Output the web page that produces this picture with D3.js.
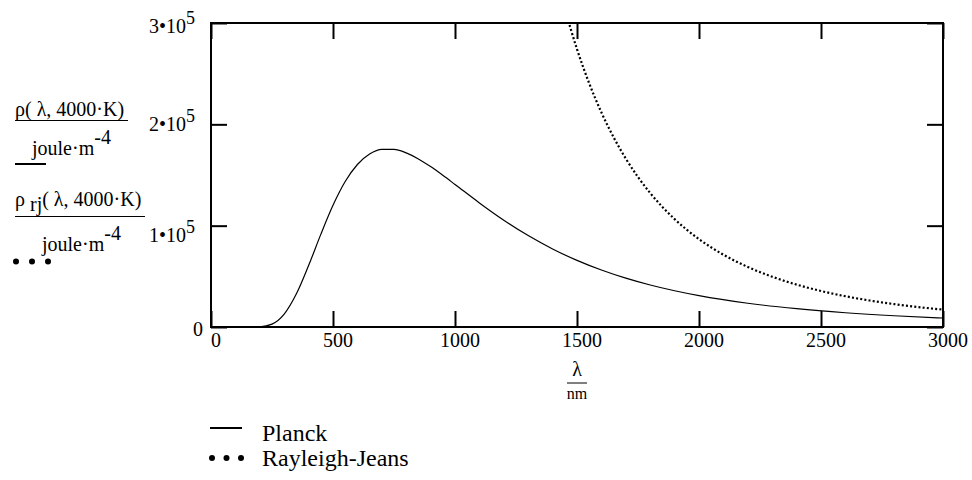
<!DOCTYPE html>
<meta charset="utf-8">
<style>
body { margin: 0; background: #fff; }
svg text { fill: #000; }
.frame { fill: none; stroke: #000; stroke-width: 2px; }
.ticks line { stroke: #000; stroke-width: 2px; }
.ticks path { display: none; }
.planck { fill: none; stroke: #000; stroke-width: 1.2px; }
.rj { fill: none; stroke: #000; stroke-width: 2.2px; stroke-dasharray: 2,2.2; }
</style>
<body>
<svg width="972" height="480" font-family="'Liberation Serif', 'Times New Roman', 'DejaVu Serif', serif"></svg>
</body>
<script src="https://d3js.org/d3.v7.min.js"></script>
<script>
// wavelength (nm) and energy density (joule/m^4), T = 4000 K
var lambdaPlanck = [0, 50, 100, 150, 200, 250, 300, 350, 400, 450, 500, 550, 600, 650, 700, 750,
                    800, 850, 900, 950, 1000, 1100, 1200, 1300, 1400, 1500, 1600, 1700, 1800, 1900,
                    2000, 2200, 2400, 2600, 2800, 3000];
var planck = [0, 0, 0, 3, 240, 2880, 12750, 32710, 60640, 91410, 120090, 143520, 160360, 170680, 175280, 175300,
              171820, 165870, 158290, 149730, 140680, 122470, 105400, 90190, 76990, 65740, 56220, 48190, 41440, 35750,
              30950, 23460, 18040, 14060, 11100, 8870];

var lambdaRJ = [1450, 1500, 1550, 1600, 1650, 1700, 1750, 1800, 1900, 2000, 2100, 2200, 2300,
                2400, 2500, 2600, 2700, 2800, 2900, 3000];
var rayleighJeans = [313990, 274170, 240470, 211790, 187260, 166180, 147990, 132220, 106500, 86750, 71370, 59250, 49600,
                     41840, 35530, 30370, 26120, 22580, 19620, 17140];

var xTicks = [0, 500, 1000, 1500, 2000, 2500, 3000];
var yTicks = [0, 100000, 200000, 300000];
var yTickBase = ["0", "1•10", "2•10", "3•10"];
var yTickExp = ["", "5", "5", "5"];
var legendNames = ["Planck", "Rayleigh-Jeans"];

var margin = {left: 211, top: 23, right: 29, bottom: 153};
var svg = d3.select("svg");
var width = 972 - margin.left - margin.right;
var height = 480 - margin.top - margin.bottom;

var g = svg.append("g")
    .attr("transform", "translate(" + margin.left + "," + margin.top + ")");

var x = d3.scaleLinear().domain([0, 3000]).range([0, width]);
var y = d3.scaleLinear().domain([0, 300000]).range([height, 0]);

svg.append("defs").append("clipPath").attr("id", "plotClip")
  .append("rect").attr("width", width).attr("height", height);

// inward ticks on all four sides
var tk = 16;
g.append("g").attr("class", "ticks").attr("transform", "translate(0," + height + ")")
    .call(d3.axisBottom(x).tickValues(xTicks).tickSize(-tk).tickFormat(""));
g.append("g").attr("class", "ticks")
    .call(d3.axisTop(x).tickValues(xTicks).tickSize(-tk).tickFormat(""));
g.append("g").attr("class", "ticks")
    .call(d3.axisLeft(y).tickValues(yTicks).tickSize(-tk).tickFormat(""));
g.append("g").attr("class", "ticks").attr("transform", "translate(" + width + ",0)")
    .call(d3.axisRight(y).tickValues(yTicks).tickSize(-tk).tickFormat(""));

g.append("rect").attr("class", "frame").attr("width", width).attr("height", height);

// x tick labels
g.append("g").selectAll("text")
    .data(xTicks)
    .enter().append("text")
    .attr("x", function(d) { return x(d) + 5; })
    .attr("y", height + 20)
    .attr("text-anchor", "middle")
    .style("font-size", "20px")
    .text(function(d) { return d; });

// y tick labels (mantissa + superscript exponent)
var yNudge = [9, 16, 7, 10];
var yl = g.append("g").selectAll("text")
    .data(yTicks)
    .enter().append("text")
    .attr("x", function(d, i) { return i == 0 ? -8 : -16; })
    .attr("y", function(d, i) { return y(d) + yNudge[i]; })
    .attr("text-anchor", "end")
    .style("font-size", "20px");
yl.append("tspan").text(function(d, i) { return yTickBase[i]; });
yl.append("tspan").attr("dy", -9).style("font-size", "18px")
    .text(function(d, i) { return yTickExp[i]; });

var line = d3.line()
    .curve(d3.curveMonotoneX)
    .x(function(d) { return x(d[0]); })
    .y(function(d) { return y(d[1]); });

g.append("path")
    .attr("class", "planck")
    .attr("d", line(d3.zip(lambdaPlanck, planck)));

g.append("path")
    .attr("class", "rj")
    .attr("clip-path", "url(#plotClip)")
    .attr("d", line(d3.zip(lambdaRJ, rayleighJeans)));

// y axis expression labels (left side)
var lab = svg.append("g").style("font-size", "20px");
lab.append("text").attr("x", 15).attr("y", 116).text("ρ( λ, 4000·K)");
lab.append("line").attr("x1", 15).attr("x2", 128).attr("y1", 120.5).attr("y2", 120.5)
    .attr("stroke", "#000").attr("stroke-width", 1);
var t1 = lab.append("text").attr("x", 32).attr("y", 155);
t1.append("tspan").text("joule·m");
t1.append("tspan").attr("dy", -11).text("-4");
lab.append("line").attr("x1", 15).attr("x2", 46).attr("y1", 164).attr("y2", 164)
    .attr("stroke", "#000").attr("stroke-width", 2);

var t2 = lab.append("text").attr("x", 15).attr("y", 206);
t2.append("tspan").text("ρ ");
t2.append("tspan").attr("dy", 5).text("rj");
t2.append("tspan").attr("dy", -5).text("( λ, 4000·K)");
lab.append("line").attr("x1", 15).attr("x2", 145).attr("y1", 216.5).attr("y2", 216.5)
    .attr("stroke", "#000").attr("stroke-width", 1);
var t3 = lab.append("text").attr("x", 42).attr("y", 251);
t3.append("tspan").text("joule·m");
t3.append("tspan").attr("dy", -11).text("-4");
lab.selectAll("circle.d").data([0, 1, 2]).enter().append("circle")
    .attr("cx", function(d) { return 16 + d * 16; }).attr("cy", 261.5).attr("r", 3);

// x axis expression label
var xl = svg.append("g");
xl.append("text").attr("x", 577).attr("y", 376).attr("text-anchor", "middle")
    .style("font-size", "20px").text("λ");
xl.append("line").attr("x1", 567).attr("x2", 587).attr("y1", 383).attr("y2", 383)
    .attr("stroke", "#000").attr("stroke-width", 1);
xl.append("text").attr("x", 577).attr("y", 399).attr("text-anchor", "middle")
    .style("font-size", "16px").text("nm");

// legend
var leg = svg.append("g").style("font-size", "24px");
leg.append("line").attr("x1", 210).attr("x2", 242).attr("y1", 428).attr("y2", 428)
    .attr("stroke", "#000").attr("stroke-width", 2);
leg.selectAll("circle").data([0, 1, 2]).enter().append("circle")
    .attr("cx", function(d) { return 212 + d * 14.5; }).attr("cy", 458).attr("r", 3);
leg.selectAll("text").data(legendNames).enter().append("text")
    .attr("x", 262)
    .attr("y", function(d, i) { return 441 + i * 25; })
    .text(function(d) { return d; });
</script>
